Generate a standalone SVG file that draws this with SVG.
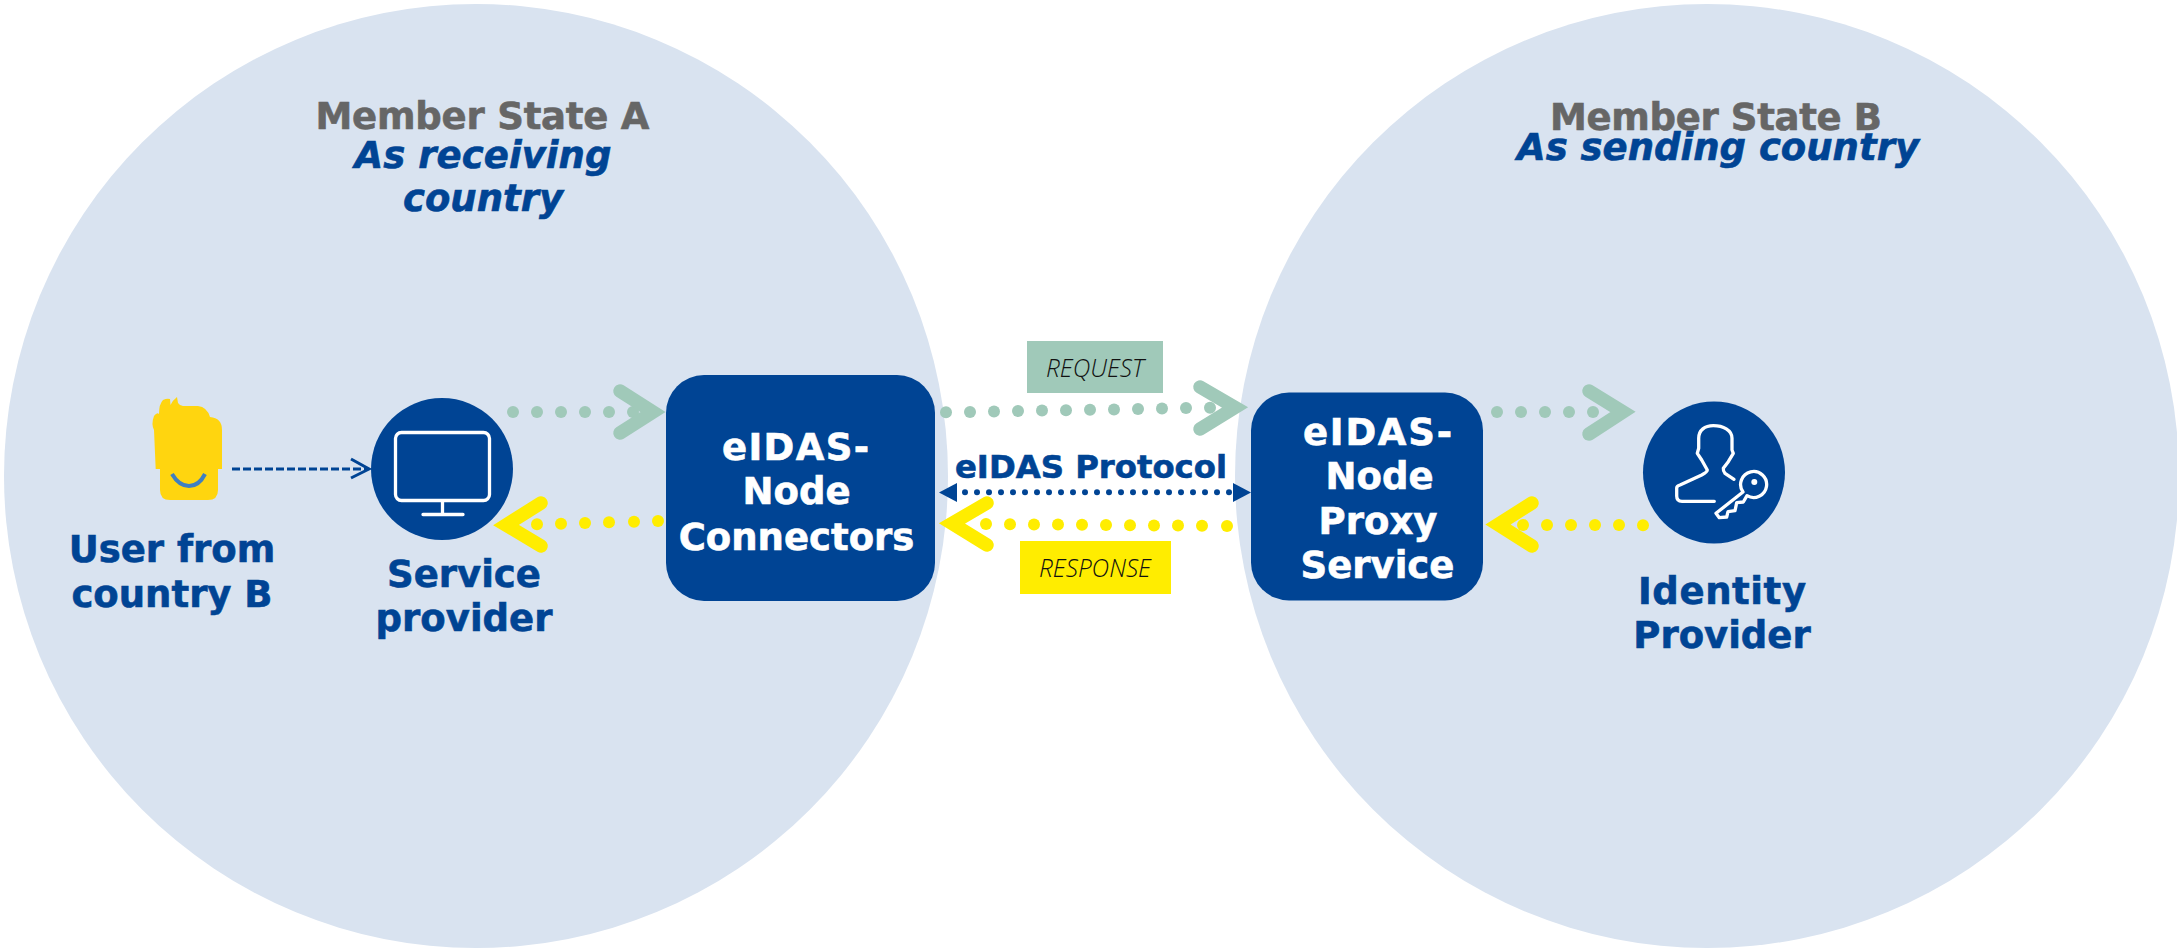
<svg xmlns="http://www.w3.org/2000/svg" width="2177" height="951" viewBox="0 0 2177 951">
<style>
.bg{fill:#d9e3f0}
.box,.disc{fill:#004494}
.t{font-family:"DejaVu Sans",sans-serif;font-weight:700;font-size:37px;text-anchor:middle;stroke-width:.6}
.blue{fill:#004494;stroke:#004494}
.white{fill:#fff;stroke:#fff}
.grey{fill:#666;stroke:#666}
.it{font-style:italic}
.lab{font-family:"Open Sans","Liberation Sans",sans-serif;font-weight:300;font-style:italic;fill:#111;font-size:26.500px}
.line{fill:none;stroke:#fff;stroke-width:3.300;stroke-linecap:round;stroke-linejoin:round}
.g{fill:#a0c9b9}.y{fill:#ffed00}.b{fill:#004494}
.cg,.cy{fill:none;stroke-width:13.500;stroke-linecap:round;stroke-linejoin:miter}
.cg{stroke:#a0c9b9}.cy{stroke:#ffed00}
</style>
<defs>
<circle id="dg" r="6" class="g"/>
<circle id="dy" r="6" class="y"/>
<circle id="db" r="3" class="b"/>
</defs>
<g id="member-state-a">
<circle class="bg" cx="476" cy="476" r="472"/>
<text class="t grey" x="482.500" y="129" textLength="334">Member State A</text>
<text class="t blue it" x="483" y="168" textLength="257">As receiving</text>
<text class="t blue it" x="483" y="211" textLength="160">country</text>
</g>
<g id="member-state-b">
<circle class="bg" cx="1707" cy="476" r="472"/>
<text class="t grey" x="1716" y="130" textLength="332">Member State B</text>
<text class="t blue it" x="1718" y="160" textLength="402">As sending country</text>
</g>
<g id="connectors">
<path d="M232 469H368" fill="none" stroke="#004494" stroke-width="3" stroke-dasharray="8 3"/>
<path d="M351 459L369 469L351 478" fill="none" stroke="#004494" stroke-width="3"/>
<g id="sp-request">
<use href="#dg" x="513" y="412"/><use href="#dg" x="537" y="412"/><use href="#dg" x="561" y="412"/><use href="#dg" x="585" y="412"/><use href="#dg" x="609" y="412"/><use href="#dg" x="633" y="412"/>
<path class="cg" d="M620 391L653 412L620 433"/>
</g>
<g id="sp-response">
<use href="#dy" x="537" y="524.300"/><use href="#dy" x="561" y="523.700"/><use href="#dy" x="585" y="523"/><use href="#dy" x="609" y="522.300"/><use href="#dy" x="634" y="521.700"/><use href="#dy" x="658" y="521"/>
<path class="cy" d="M541 503L506 525L541 546"/>
</g>
<g id="mid-request">
<use href="#dg" x="946" y="412.300"/><use href="#dg" x="970" y="411.900"/><use href="#dg" x="994" y="411.500"/><use href="#dg" x="1018" y="411"/><use href="#dg" x="1042" y="410.600"/><use href="#dg" x="1066" y="410.200"/><use href="#dg" x="1090" y="409.800"/><use href="#dg" x="1114" y="409.400"/><use href="#dg" x="1138" y="409"/><use href="#dg" x="1162" y="408.500"/><use href="#dg" x="1186" y="408.100"/><use href="#dg" x="1210" y="407.700"/>
<path class="cg" d="M1200 387L1235 407.500L1200 429"/>
</g>
<g id="mid-protocol">
<use href="#db" x="965" y="492.300"/><use href="#db" x="977" y="492.300"/><use href="#db" x="989" y="492.300"/><use href="#db" x="1001" y="492.300"/><use href="#db" x="1013" y="492.300"/><use href="#db" x="1025" y="492.300"/><use href="#db" x="1037" y="492.300"/><use href="#db" x="1049" y="492.300"/><use href="#db" x="1061" y="492.300"/><use href="#db" x="1073" y="492.300"/><use href="#db" x="1085" y="492.300"/><use href="#db" x="1097" y="492.300"/><use href="#db" x="1109" y="492.300"/><use href="#db" x="1121" y="492.300"/><use href="#db" x="1133" y="492.300"/><use href="#db" x="1145" y="492.300"/><use href="#db" x="1157" y="492.300"/><use href="#db" x="1169" y="492.300"/><use href="#db" x="1181" y="492.300"/><use href="#db" x="1193" y="492.300"/><use href="#db" x="1205" y="492.300"/><use href="#db" x="1217" y="492.300"/><use href="#db" x="1229" y="492.300"/>
<path class="b" d="M939 492.500L957 483V502Z"/>
<path class="b" d="M1251 492.500L1233 483V502Z"/>
</g>
<g id="mid-response">
<use href="#dy" x="986" y="524"/><use href="#dy" x="1010" y="524.200"/><use href="#dy" x="1034" y="524.400"/><use href="#dy" x="1058" y="524.600"/><use href="#dy" x="1082" y="524.800"/><use href="#dy" x="1106" y="525"/><use href="#dy" x="1130" y="525.200"/><use href="#dy" x="1154" y="525.400"/><use href="#dy" x="1178" y="525.600"/><use href="#dy" x="1202" y="525.800"/><use href="#dy" x="1227" y="526"/>
<path class="cy" d="M987 503L952 523.500L987 545"/>
</g>
<g id="idp-request">
<use href="#dg" x="1497" y="412"/><use href="#dg" x="1521" y="412"/><use href="#dg" x="1545" y="412"/><use href="#dg" x="1569" y="412"/><use href="#dg" x="1593" y="412"/>
<path class="cg" d="M1589 391L1623 412L1589 434"/>
</g>
<g id="idp-response">
<use href="#dy" x="1523" y="525"/><use href="#dy" x="1547" y="525"/><use href="#dy" x="1571" y="525"/><use href="#dy" x="1595" y="525"/><use href="#dy" x="1619" y="525"/><use href="#dy" x="1643" y="525.300"/>
<path class="cy" d="M1532 503L1498 524.500L1532 546"/>
</g>
</g>
<g id="user">
<path fill="#ffd50f" d="M155.700 469L154 430Q151 424 154 416Q157 412 159 414Q159 404 163 400Q167 398 170 399L170.500 405Q173 400 177 397L178 403Q180 406 183 406H198Q207 407 210 417Q222 418 222 430V469H218V490Q218 500 208 500H170Q160 500 160 490V469Z"/>
<path d="M172 474Q179 486 189 486T205 474" fill="none" stroke="#3f7fc1" stroke-width="4"/>
<text class="t blue" x="172" y="562">User from</text>
<text class="t blue" x="172" y="607">country B</text>
</g>
<g id="service-provider">
<circle class="disc" cx="442" cy="469" r="71"/>
<rect class="line" x="395.500" y="432.500" width="94" height="68" rx="6"/>
<path class="line" d="M442.500 501V514M423 514.500H463"/>
<text class="t blue" x="464" y="587">Service</text>
<text class="t blue" x="464" y="631">provider</text>
</g>
<g id="eidas-connectors">
<rect class="box" x="666" y="375" width="269" height="226" rx="38"/>
<text class="t white" x="795.500" y="460" textLength="147">eIDAS-</text>
<text class="t white" x="796.500" y="504">Node</text>
<text class="t white" x="796.500" y="550">Connectors</text>
</g>
<g id="eidas-proxy">
<rect class="box" x="1251" y="392.500" width="232" height="208" rx="38"/>
<text class="t white" x="1377.500" y="445" textLength="149">eIDAS-</text>
<text class="t white" x="1379.500" y="489">Node</text>
<text class="t white" x="1378" y="534">Proxy</text>
<text class="t white" x="1377.500" y="578">Service</text>
</g>
<g id="identity-provider">
<circle class="disc" cx="1714" cy="472.500" r="71"/>
<path class="line" d="M1714.300 501.300H1682Q1676.700 501.300 1676.700 496V488Q1676.700 486 1680 485L1701.700 475Q1707.300 472 1707.300 470L1701.700 460L1697.300 453.300L1698.700 448.300V438.300C1698.700 430 1705 425.700 1713.300 425.700C1723 425.700 1732 430 1732 438.300V450L1733.300 453.300L1728.300 461.700L1723.300 468.300Q1723 471 1725 473.300L1734 479.300"/>
<path class="line" d="M1743 492L1716 513.300L1719.300 517.700L1726.700 517L1728 511.700L1735 510.700L1736.700 502.700L1743.300 502L1747 495.700A13 13 0 1 0 1743 492Z"/>
<circle cx="1754.300" cy="482" r="3" fill="#fff"/>
<text class="t blue" x="1722" y="604" textLength="168">Identity</text>
<text class="t blue" x="1722" y="648">Provider</text>
</g>
<g id="label-protocol">
<text class="t blue" x="1091" y="478" style="font-size:32.300px">eIDAS Protocol</text>
</g>
<g id="label-request">
<rect class="g" x="1027" y="341" width="136" height="52"/>
<text class="lab" x="1046" y="377" textLength="98" lengthAdjust="spacingAndGlyphs">REQUEST</text>
</g>
<g id="label-response">
<rect class="y" x="1020" y="541" width="151" height="53"/>
<text class="lab" x="1039" y="577" textLength="112" lengthAdjust="spacingAndGlyphs">RESPONSE</text>
</g>
</svg>
